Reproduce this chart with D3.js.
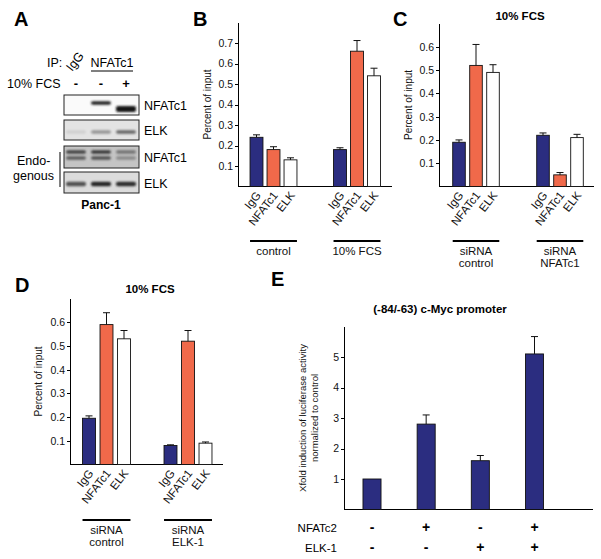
<!DOCTYPE html>
<html>
<head>
<meta charset="utf-8">
<script src="https://cdn.jsdelivr.net/npm/d3@7"></script>
<style>
  body { margin: 0; background: #fff; }
  svg { font-family: "Liberation Sans", Arial, Helvetica, sans-serif; }
  .axis path, .axis line { stroke: #000; stroke-width: 1; shape-rendering: crispEdges; }
  .axis text { font-size: 10.5px; fill: #111; }
</style>
</head>
<body>
<svg id="fig" width="601" height="559"></svg>
<script>
// ---- data ----
var seriesNames = ["IgG", "NFATc1", "ELK"];
var seriesColors = ["#2b2d80", "#f0694a", "#ffffff"];

var bGroups = [["control"], ["10% FCS"]];
var bValues = [[0.24, 0.18, 0.13], [0.18, 0.66, 0.54]];
var bErrors = [[0.012, 0.014, 0.010], [0.009, 0.052, 0.037]];
var bTicks = [0.1, 0.2, 0.3, 0.4, 0.5, 0.6, 0.7];

var cGroups = [["siRNA", "control"], ["siRNA", "NFATc1"]];
var cValues = [[0.19, 0.52, 0.49], [0.22, 0.05, 0.21]];
var cErrors = [[0.010, 0.090, 0.033], [0.010, 0.010, 0.014]];
var cTicks = [0.1, 0.2, 0.3, 0.4, 0.5, 0.6];

var dGroups = [["siRNA", "control"], ["siRNA", "ELK-1"]];
var dValues = [[0.195, 0.59, 0.53], [0.08, 0.52, 0.09]];
var dErrors = [[0.010, 0.050, 0.035], [0.003, 0.045, 0.005]];
var dTicks = [0.1, 0.2, 0.3, 0.4, 0.5, 0.6];

var eValues = [1.0, 2.8, 1.6, 5.1];
var eErrors = [0, 0.30, 0.17, 0.57];
var eTicks = [1, 2, 3, 4, 5];
var eNFATc2 = ["-", "+", "-", "+"];
var eELK1 = ["-", "-", "+", "+"];

// blot: lane intensities (0..1) per band row
var blotLabels = ["NFATc1", "ELK", "NFATc1", "ELK"];
var blotBands = [
  [[0.0, 0.95, 0.0], [0.0, 0.0, 1.0]],
  [[0.2, 0.45, 0.65]],
  [[0.8, 0.85, 0.6], [0.7, 0.75, 0.5]],
  [[0.75, 0.95, 0.9]]
];
var blotBackground = [0.02, 0.12, 0.25, 0.15];
var laneSigns = ["-", "-", "+"];

var svg = d3.select("#fig");

function panelLetter(t, x, y) {
  svg.append("text").attr("x", x).attr("y", y)
    .style("font-size", "20px").style("font-weight", "bold").text(t);
}

function title(t, x, y) {
  svg.append("text").attr("x", x).attr("y", y).attr("text-anchor", "middle")
    .style("font-size", "11.5px").style("font-weight", "bold").text(t);
}

// generic grouped bar panel
function barPanel(o) {
  var g = svg.append("g");
  var y = d3.scaleLinear().domain([0, o.yMax]).range([o.bottom, o.top]);
  var x = d3.scalePoint().domain(d3.range(o.values.length)).range(o.centers);
  var n = o.values[0].length;
  var w = o.step * (n + o.barPad);
  var inner = d3.scaleBand().domain(d3.range(n)).range([-w / 2, w / 2]).padding(o.barPad);

  g.append("g").attr("class", "axis")
    .attr("transform", "translate(" + o.left + ",0)")
    .call(d3.axisLeft(y).tickValues(o.ticks).tickSize(3).tickSizeOuter(0)
      .tickPadding(2).tickFormat(d3.format(o.fmt)));
  g.append("line").attr("x1", o.left).attr("x2", o.right)
    .attr("y1", y(0)).attr("y2", y(0))
    .attr("stroke", "#000").attr("shape-rendering", "crispEdges");

  var cells = [];
  o.values.forEach(function(row, gi) {
    row.forEach(function(v, si) {
      cells.push({g: gi, s: si, v: v, e: o.errors[gi][si]});
    });
  });
  var cx = function(d) { return x(d.g) + inner(d.s) + inner.bandwidth() / 2; };

  g.selectAll("rect.bar").data(cells).enter().append("rect")
    .attr("class", "bar")
    .attr("x", function(d) { return x(d.g) + inner(d.s); })
    .attr("width", inner.bandwidth())
    .attr("y", function(d) { return y(d.v); })
    .attr("height", function(d) { return y(0) - y(d.v); })
    .attr("fill", function(d) { return o.colors[d.s]; })
    .attr("stroke", "#111").attr("stroke-width", 0.9);

  var err = g.selectAll("g.err").data(cells.filter(function(d) { return d.e > 0; }))
    .enter().append("g").attr("class", "err");
  err.append("line")
    .attr("x1", cx).attr("x2", cx)
    .attr("y1", function(d) { return y(d.v); })
    .attr("y2", function(d) { return y(d.v + d.e); })
    .attr("stroke", "#111").attr("stroke-width", 1);
  err.append("line")
    .attr("x1", function(d) { return cx(d) - 3.5; })
    .attr("x2", function(d) { return cx(d) + 3.5; })
    .attr("y1", function(d) { return y(d.v + d.e); })
    .attr("y2", function(d) { return y(d.v + d.e); })
    .attr("stroke", "#111").attr("stroke-width", 1);

  // y label
  var yl = g.append("text")
    .attr("transform", "translate(" + o.ylabelX + "," + ((o.top + o.bottom) / 2) + ") rotate(-90)")
    .attr("text-anchor", "middle").style("font-size", o.ylabelSize || "10px").style("fill", "#111");
  o.ylabel.forEach(function(t, i) {
    yl.append("tspan").attr("x", 0).attr("dy", i ? "1.3em" : 0).text(t);
  });

  if (o.catLabels) {
    g.selectAll("text.cat").data(cells).enter().append("text")
      .attr("class", "cat")
      .attr("text-anchor", "end")
      .attr("transform", function(d) {
        return "translate(" + (cx(d) + 5) + "," + (y(0) + 9) + ") rotate(-52)";
      })
      .style("font-size", "11.5px").style("fill", "#111")
      .text(function(d) { return o.catLabels[d.s]; });
  }

  if (o.groups) {
    o.groups.forEach(function(lines, gi) {
      var x0 = x(gi) + inner(0), x1 = x(gi) + inner(n - 1) + inner.bandwidth();
      g.append("line").attr("x1", x0).attr("x2", x1)
        .attr("y1", o.groupLineY).attr("y2", o.groupLineY)
        .attr("stroke", "#000").attr("stroke-width", 2);
      lines.forEach(function(t, li) {
        g.append("text").attr("x", (x0 + x1) / 2).attr("y", o.groupLineY + 14 + li * 12)
          .attr("text-anchor", "middle").style("font-size", "11.5px").style("fill", "#111").text(t);
      });
    });
  }
  return {x: x, y: y};
}

// ---- panel A: western blot ----
(function() {
  var defs = svg.append("defs");
  defs.append("filter").attr("id", "blur").attr("x", "-20%").attr("y", "-50%")
    .attr("width", "140%").attr("height", "200%")
    .append("feGaussianBlur").attr("stdDeviation", 1.1);

  var fs = "12.5px";
  panelLetter("A", 14, 26);
  svg.append("text").attr("x", 47).attr("y", 67).style("font-size", fs).text("IP:");
  svg.append("text").attr("transform", "translate(72,72) rotate(-52)")
    .style("font-size", fs).text("IgG");
  svg.append("text").attr("x", 112).attr("y", 67).attr("text-anchor", "middle")
    .style("font-size", fs).text("NFATc1");
  svg.append("line").attr("x1", 91).attr("x2", 133).attr("y1", 71).attr("y2", 71)
    .attr("stroke", "#000").attr("stroke-width", 1);
  svg.append("text").attr("x", 7).attr("y", 88).style("font-size", fs).text("10% FCS");

  var lane = d3.scalePoint().domain(d3.range(3)).range([76, 126]).padding(0);
  svg.selectAll("text.sign").data(laneSigns).enter().append("text")
    .attr("class", "sign").attr("x", function(d, i) { return lane(i); })
    .attr("y", 88).attr("text-anchor", "middle").style("font-size", "13px").style("font-weight", "bold")
    .text(function(d) { return d; });

  var boxes = [[95, 115], [120, 140], [146, 168], [172, 193]];
  var rowY = [[103, 109], [132], [152, 158], [184]];
  var shade = d3.scaleLinear().domain([0, 1]).range(["#ffffff", "#141414"]);
  boxes.forEach(function(b, bi) {
    svg.append("rect").attr("x", 64).attr("y", b[0]).attr("width", 75).attr("height", b[1] - b[0])
      .attr("fill", shade(blotBackground[bi]));
    var bg = svg.append("g").attr("filter", "url(#blur)");
    blotBands[bi].forEach(function(row, ri) {
      row.forEach(function(v, li) {
        if (v <= 0) return;
        var thick = (bi === 0 && li === 2) ? 6 : (bi === 3 ? 4.5 : 3.5);
        bg.append("rect").attr("x", lane(li) - 10).attr("y", rowY[bi][ri] - thick / 2)
          .attr("width", 20).attr("height", thick).attr("rx", 2)
          .attr("fill", shade(v));
      });
    });
    svg.append("rect").attr("x", 64).attr("y", b[0]).attr("width", 75).attr("height", b[1] - b[0])
      .attr("fill", "none").attr("stroke", "#222").attr("stroke-width", 1);
    svg.append("text").attr("x", 144).attr("y", (b[0] + b[1]) / 2 + 5)
      .style("font-size", fs).text(blotLabels[bi]);
  });
  svg.append("text").attr("x", 17).attr("y", 165).style("font-size", fs).text("Endo-");
  svg.append("text").attr("x", 13).attr("y", 180).style("font-size", fs).text("genous");
  svg.append("line").attr("x1", 60).attr("x2", 60).attr("y1", 152).attr("y2", 187)
    .attr("stroke", "#000").attr("stroke-width", 1);
  svg.append("text").attr("x", 101).attr("y", 209).attr("text-anchor", "middle")
    .style("font-size", "12px").style("font-weight", "bold").text("Panc-1");
})();

// ---- panel B ----
panelLetter("B", 193, 26);
barPanel({
  values: bValues, errors: bErrors, colors: seriesColors, catLabels: seriesNames,
  groups: bGroups, groupLineY: 241,
  left: 238, right: 392, top: 22.5, bottom: 186.5, yMax: 0.8, ticks: bTicks, fmt: ".1f",
  centers: [273.5, 357], step: 17, barPad: 0.24,
  ylabel: ["Percent of input"], ylabelX: 211
});

// ---- panel C ----
panelLetter("C", 393, 26);
title("10% FCS", 520, 20);
barPanel({
  values: cValues, errors: cErrors, colors: seriesColors, catLabels: seriesNames,
  groups: cGroups, groupLineY: 241,
  left: 439, right: 594, top: 23.5, bottom: 186.5, yMax: 0.7, ticks: cTicks, fmt: ".1f",
  centers: [476, 560], step: 17, barPad: 0.26,
  ylabel: ["Percent of input"], ylabelX: 412
});

// ---- panel D ----
panelLetter("D", 15, 292);
title("10% FCS", 150, 293);
barPanel({
  values: dValues, errors: dErrors, colors: seriesColors, catLabels: seriesNames,
  groups: dGroups, groupLineY: 520,
  left: 70, right: 223, top: 298.5, bottom: 464.5, yMax: 0.7, ticks: dTicks, fmt: ".1f",
  centers: [106.5, 188], step: 17.5, barPad: 0.26,
  ylabel: ["Percent of input"], ylabelX: 42
});

// ---- panel E ----
panelLetter("E", 271, 286);
title("(-84/-63) c-Myc promoter", 440, 313);
var eScales = barPanel({
  values: eValues.map(function(v) { return [v]; }),
  errors: eErrors.map(function(v) { return [v]; }),
  colors: ["#2b2d80"],
  left: 344, right: 593, top: 326.5, bottom: 509.5, yMax: 6, ticks: eTicks, fmt: "d",
  centers: [372, 534.5], step: 22, barPad: 0.18,
  ylabel: ["Xfold induction of luciferase activity", "normalized to control"],
  ylabelX: 306, ylabelSize: "9.5px"
});
[["NFATc2", eNFATc2, 532], ["ELK-1", eELK1, 552]].forEach(function(r) {
  svg.append("text").attr("x", 337).attr("y", r[2]).attr("text-anchor", "end")
    .style("font-size", "11.5px").text(r[0]);
  svg.selectAll(null).data(r[1]).enter().append("text")
    .attr("x", function(d, i) { return eScales.x(i); })
    .attr("y", r[2]).attr("text-anchor", "middle")
    .style("font-size", "14px").style("font-weight", "bold")
    .text(function(d) { return d; });
});
</script>
</body>
</html>
